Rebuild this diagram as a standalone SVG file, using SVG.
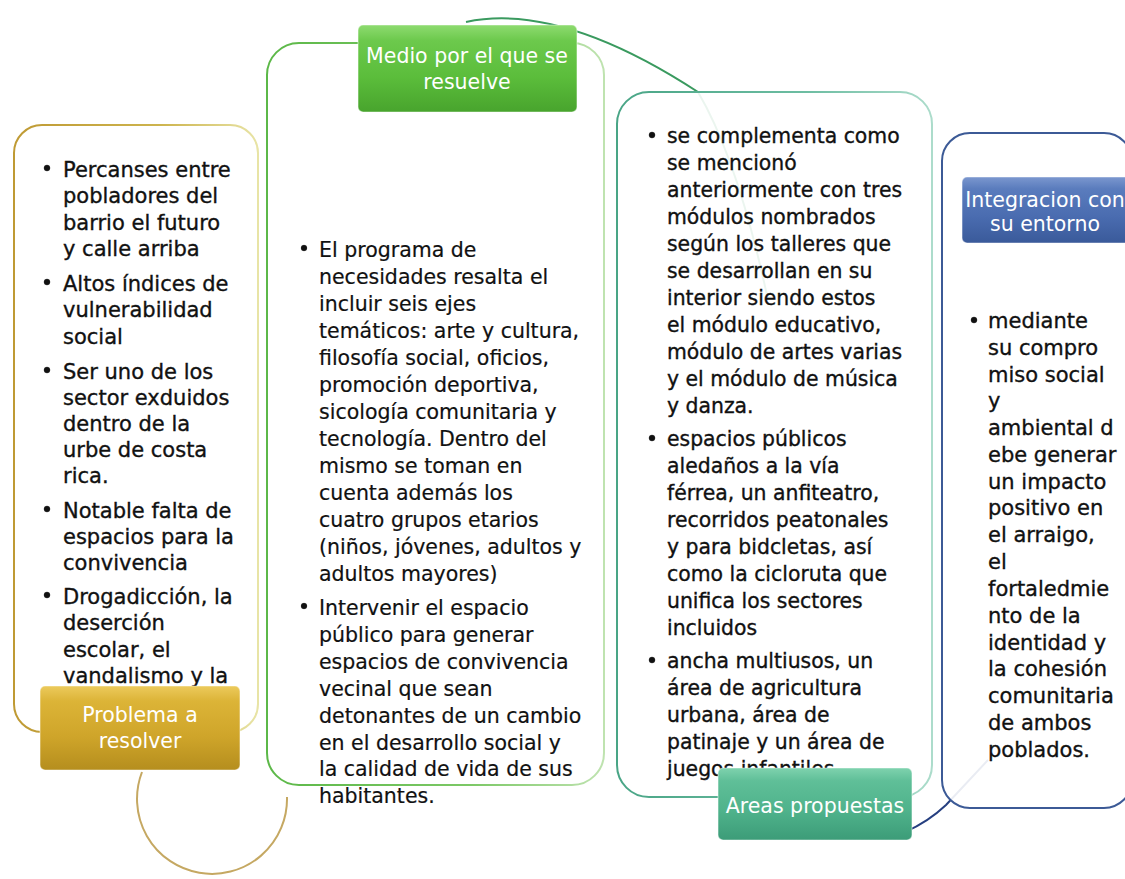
<svg xmlns="http://www.w3.org/2000/svg" width="1125" height="879" viewBox="0 0 1125 879">
<defs>
<linearGradient id="sGold" x1="0" y1="0" x2="1" y2="0"><stop offset="0" stop-color="#bf9a34"/><stop offset="0.6" stop-color="#cdb44e"/><stop offset="1" stop-color="#e8e4a6"/></linearGradient>
<linearGradient id="sGreen" x1="0" y1="0" x2="1" y2="0"><stop offset="0" stop-color="#5cb848"/><stop offset="0.6" stop-color="#7cc866"/><stop offset="1" stop-color="#bfe3b0"/></linearGradient>
<linearGradient id="sTeal" x1="0" y1="0" x2="1" y2="0"><stop offset="0" stop-color="#49a586"/><stop offset="0.6" stop-color="#6dbda2"/><stop offset="1" stop-color="#acdccb"/></linearGradient>
<linearGradient id="gGold" x1="0" y1="0" x2="0" y2="1"><stop offset="0" stop-color="#ecca5c"/><stop offset="0.18" stop-color="#dcb437"/><stop offset="0.6" stop-color="#cfa52a"/><stop offset="1" stop-color="#b58e1e"/></linearGradient>
<linearGradient id="gGreen" x1="0" y1="0" x2="0" y2="1"><stop offset="0" stop-color="#8edb70"/><stop offset="0.18" stop-color="#6cc94c"/><stop offset="0.6" stop-color="#5bbd3b"/><stop offset="1" stop-color="#48a42d"/></linearGradient>
<linearGradient id="gTeal" x1="0" y1="0" x2="0" y2="1"><stop offset="0" stop-color="#7fd2ae"/><stop offset="0.18" stop-color="#5fbf98"/><stop offset="0.6" stop-color="#4fb28b"/><stop offset="1" stop-color="#3c9c78"/></linearGradient>
<linearGradient id="gBlue" x1="0" y1="0" x2="0" y2="1"><stop offset="0" stop-color="#7b97cf"/><stop offset="0.18" stop-color="#5a7cbd"/><stop offset="0.6" stop-color="#4a6cb0"/><stop offset="1" stop-color="#3a5a9a"/></linearGradient>
</defs>
<style>
.box{fill:#ffffff;fill-opacity:0.9;stroke-width:2}
.lbl{stroke:#ffffff;stroke-opacity:0.45;stroke-width:1.2}
.t{font-family:"DejaVu Sans","Liberation Sans",sans-serif;fill:#111111;stroke:#111111;stroke-width:0.35}
.lt{font-family:"DejaVu Sans","Liberation Sans",sans-serif;fill:#ffffff;font-size:20.5px;text-anchor:middle}
.b{fill:#111111}
.conn{fill:none;stroke-width:2}
</style>
<rect width="1125" height="879" fill="#ffffff"/>

<g id="connectors">
<path class="conn" d="M142,772 A75,75 0 1,0 287,797" stroke="#c5a862"/>
<path class="conn" d="M466,22 Q560,2 698,92 Q738,160 768,300" stroke="#3a9a5f"/>
<path class="conn" d="M905,832 Q928,822 946,805 L988,760" stroke="#263f80"/>
</g>

<g id="node-problema">
<rect class="box" x="14" y="125" width="244" height="607" rx="28" stroke="url(#sGold)"/>
<g class="t" font-size="21px">
<circle class="b" cx="47" cy="168" r="3"/>
<text x="63" y="177">Percanses entre</text>
<text x="63" y="203">pobladores del</text>
<text x="63" y="230">barrio el futuro</text>
<text x="63" y="256">y calle arriba</text>
<circle class="b" cx="47" cy="282" r="3"/>
<text x="63" y="291">Altos índices de</text>
<text x="63" y="317">vulnerabilidad</text>
<text x="63" y="344">social</text>
<circle class="b" cx="47" cy="370" r="3"/>
<text x="63" y="379">Ser uno de los</text>
<text x="63" y="405">sector exduidos</text>
<text x="63" y="431">dentro de la</text>
<text x="63" y="457">urbe de costa</text>
<text x="63" y="483">rica.</text>
<circle class="b" cx="47" cy="509" r="3"/>
<text x="63" y="518">Notable falta de</text>
<text x="63" y="544">espacios para la</text>
<text x="63" y="570">convivencia</text>
<circle class="b" cx="47" cy="595" r="3"/>
<text x="63" y="604">Drogadicción, la</text>
<text x="63" y="630">deserción</text>
<text x="63" y="657">escolar, el</text>
<text x="63" y="683">vandalismo y la</text>
</g>
<rect class="lbl" x="40" y="686" width="200" height="84" rx="5" fill="url(#gGold)"/>
<text class="lt" x="140" y="722">Problema a</text>
<text class="lt" x="140" y="748">resolver</text>
</g>

<g id="node-medio">
<rect class="box" x="267" y="43" width="337" height="742" rx="32" stroke="url(#sGreen)"/>
<g class="t" font-size="20.5px" style="stroke-width:0.2">
<circle class="b" cx="304" cy="248" r="3"/>
<text x="319" y="257">El programa de</text>
<text x="319" y="284">necesidades resalta  el</text>
<text x="319" y="311">incluir seis ejes</text>
<text x="319" y="338">temáticos: arte y cultura,</text>
<text x="319" y="365">filosofía social, oficios,</text>
<text x="319" y="392">promoción deportiva,</text>
<text x="319" y="419">sicología comunitaria y</text>
<text x="319" y="446">tecnología. Dentro del</text>
<text x="319" y="473">mismo se toman en</text>
<text x="319" y="500">cuenta además los</text>
<text x="319" y="527">cuatro grupos etarios</text>
<text x="319" y="554">(niños, jóvenes, adultos y</text>
<text x="319" y="581">adultos mayores)</text>
<circle class="b" cx="304" cy="606" r="3"/>
<text x="319" y="615">Intervenir el espacio</text>
<text x="319" y="642">público para generar</text>
<text x="319" y="669">espacios de convivencia</text>
<text x="319" y="696">vecinal que sean</text>
<text x="319" y="723">detonantes de un cambio</text>
<text x="319" y="750">en el desarrollo social y</text>
<text x="319" y="776">la calidad de vida de sus</text>
<text x="319" y="803">habitantes.</text>
</g>
<rect class="lbl" x="358" y="25" width="219" height="87" rx="5" fill="url(#gGreen)"/>
<text class="lt" x="467" y="63">Medio por el que se</text>
<text class="lt" x="467" y="89">resuelve</text>
</g>

<g id="node-areas">
<rect class="box" x="617" y="92" width="315" height="705" rx="32" stroke="url(#sTeal)"/>
<g class="t" font-size="20.4px">
<circle class="b" cx="652" cy="135" r="3"/>
<text x="667" y="143">se complementa como</text>
<text x="667" y="170">se mencionó</text>
<text x="667" y="197">anteriormente con tres</text>
<text x="667" y="224">módulos nombrados</text>
<text x="667" y="251">según los talleres que</text>
<text x="667" y="278">se desarrollan en su</text>
<text x="667" y="305">interior siendo estos</text>
<text x="667" y="332">el módulo educativo,</text>
<text x="667" y="359">módulo de artes varias</text>
<text x="667" y="386">y el módulo de música</text>
<text x="667" y="413">y danza.</text>
<circle class="b" cx="652" cy="438" r="3"/>
<text x="667" y="446">espacios públicos</text>
<text x="667" y="473">aledaños a la vía</text>
<text x="667" y="500">férrea, un anfiteatro,</text>
<text x="667" y="527">recorridos peatonales</text>
<text x="667" y="554">y para bidcletas, así</text>
<text x="667" y="581">como la cicloruta que</text>
<text x="667" y="608">unifica los sectores</text>
<text x="667" y="635">incluidos</text>
<circle class="b" cx="652" cy="660" r="3"/>
<text x="667" y="668">ancha multiusos, un</text>
<text x="667" y="695">área de agricultura</text>
<text x="667" y="722">urbana, área de</text>
<text x="667" y="749">patinaje y un área de</text>
<text x="667" y="776">juegos infantiles</text>
</g>
<rect class="lbl" x="718" y="768" width="194" height="72" rx="5" fill="url(#gTeal)"/>
<text class="lt" x="815" y="813">Areas propuestas</text>
</g>

<g id="node-integracion">
<rect class="box" x="942" y="133" width="190" height="675" rx="28" stroke="#3c5a96"/>
<g class="t" font-size="21px">
<circle class="b" cx="974" cy="320" r="3"/>
<text x="988" y="328">mediante</text>
<text x="988" y="355">su compro</text>
<text x="988" y="382">miso social</text>
<text x="988" y="408">y</text>
<text x="988" y="435">ambiental d</text>
<text x="988" y="462">ebe generar</text>
<text x="988" y="489">un impacto</text>
<text x="988" y="515">positivo en</text>
<text x="988" y="542">el arraigo,</text>
<text x="988" y="569">el</text>
<text x="988" y="596">fortaledmie</text>
<text x="988" y="623">nto de la</text>
<text x="988" y="650">identidad y</text>
<text x="988" y="676">la cohesión</text>
<text x="988" y="703">comunitaria</text>
<text x="988" y="730">de ambos</text>
<text x="988" y="757">poblados.</text>
</g>
<rect class="lbl" x="962" y="177" width="170" height="66" rx="5" fill="url(#gBlue)"/>
<text class="lt" x="1045" y="207">Integracion con</text>
<text class="lt" x="1045" y="231">su entorno</text>
</g>
</svg>
